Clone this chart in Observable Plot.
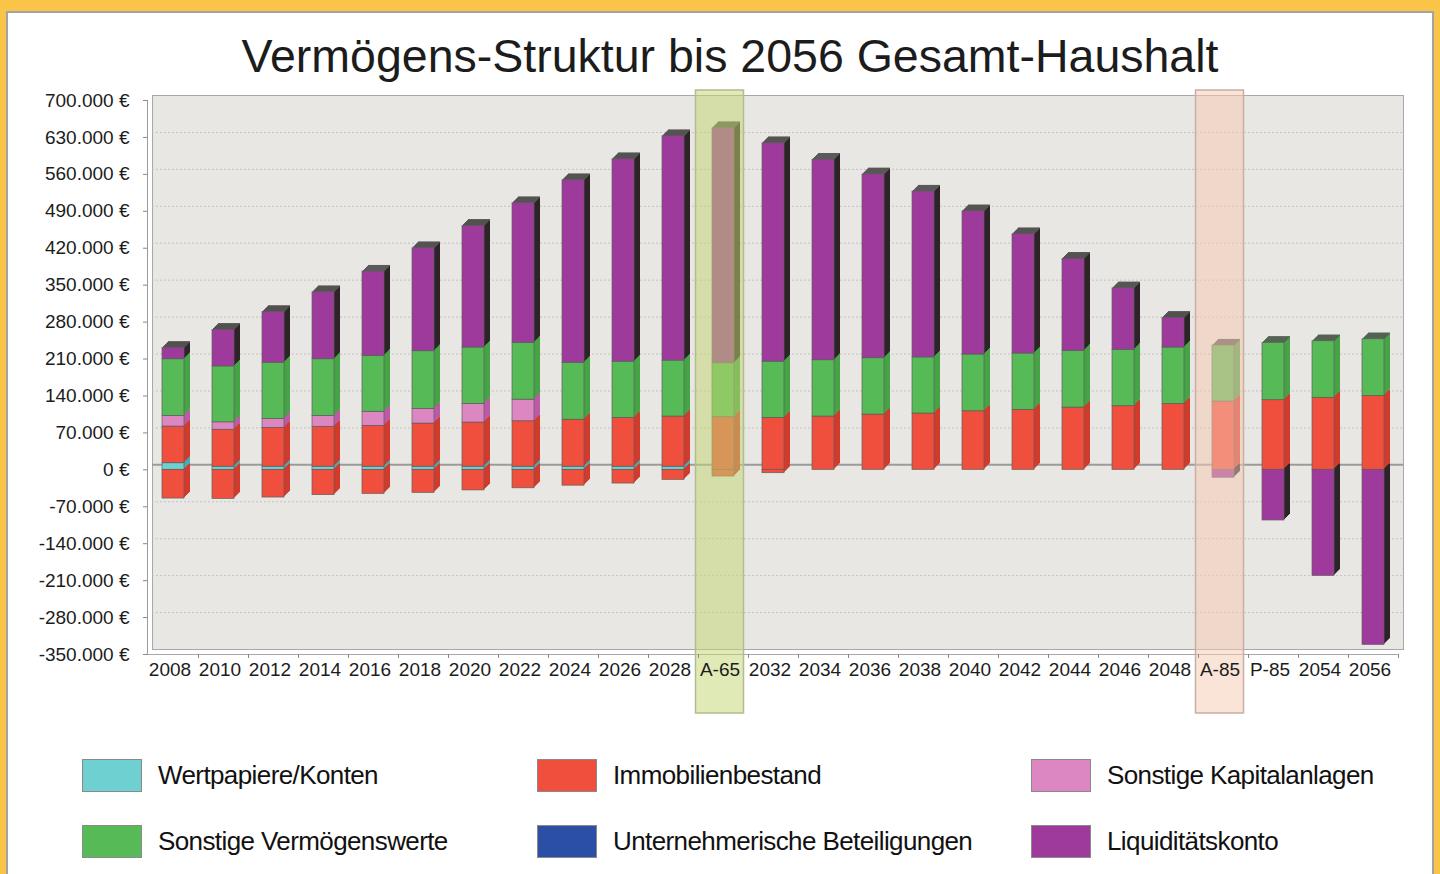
<!DOCTYPE html>
<html>
<head>
<meta charset="utf-8">
<script src="https://cdn.jsdelivr.net/npm/d3@7"></script>
<script src="https://cdn.jsdelivr.net/npm/@observablehq/plot@0.6"></script>
<style>
  html, body { margin: 0; padding: 0; }
  body { width: 1440px; height: 874px; background: #f9c448; position: relative; overflow: hidden;
         font-family: "Liberation Sans", Arial, Helvetica, sans-serif; }
  #panel { position: absolute; left: 6px; top: 11px; width: 1428px; height: 880px; background: #ffffff;
           border: 2px solid #a3a3a3; box-sizing: border-box; }
  #title { position: absolute; top: 29px; left: 730px; transform: translateX(-50%); white-space: nowrap;
           font-size: 46.5px; color: #1c1c1c; }
  #chart { position: absolute; left: 0; top: 0; }
  .leg { position: absolute; display: flex; align-items: center; font-size: 26px; color: #111; letter-spacing: -0.6px; white-space: nowrap; }
  .leg .sw { width: 60px; height: 33px; box-sizing: border-box; border: 1px solid #8a8a8a; margin-right: 16px; }
</style>
</head>
<body>
<div id="panel"></div>
<div id="title">Vermögens-Struktur bis 2056 Gesamt-Haushalt</div>
<div id="chart"></div>
<div id="legend"></div>
<script>
// ---------- data ----------
const categories = ["2008","2010","2012","2014","2016","2018","2020","2022","2024","2026","2028","A-65",
  "2032","2034","2036","2038","2040","2042","2044","2046","2048","A-85","P-85","2054","2056"];

const wertpapiereKonten = [12500,6000,6000,6000,6000,6000,6000,6000,6000,6000,6000,0,
  0,0,0,0,0,0,0,0,0,0,0,0,0];
const immobilienbestand = [69500,70000,73600,75500,77400,81700,83600,86000,89000,92500,95000,99700,
  98500,101000,104800,106700,111000,113700,118000,120600,125000,129400,132000,136500,140000];
const immobilienSchulden = [-54400,-55000,-52500,-48000,-45500,-43600,-39000,-35000,-30000,-26000,-19000,-12700,
  -6400,0,0,0,0,0,0,0,0,0,0,0,0];
const sonstigeKapitalanlagen = [20000,14000,17000,20500,26600,27900,35400,41000,0,0,0,0,
  0,0,0,0,0,0,0,0,0,0,0,0,0];
const sonstigeVermoegenswerte = [107600,106000,106400,107600,106000,109200,106800,107700,108000,106500,106000,102300,
  106500,106700,106700,106300,107500,106700,107500,106800,106800,106200,108700,107200,107500];
const unternehmerischeBeteiligungen = [0,0,0,0,0,0,0,0,0,0,0,0,
  0,0,0,0,0,0,0,0,0,0,0,0,0];
const liquiditaetskonto = [21400,69300,96000,127000,159800,195200,230600,264600,345900,383700,425300,445500,
  414000,380300,348500,314500,271500,226100,174500,116600,56200,-15000,-96000,-201000,-331700];

const yTicks = [-350000,-280000,-210000,-140000,-70000,0,70000,140000,210000,280000,350000,420000,490000,560000,630000,700000];
const highlights = [{cat: "A-65", fill: "#c3d773", stroke: "#b3bb90"}, {cat: "A-85", fill: "#f6c9b3", stroke: "#c9aea2"}];

const seriesNames = ["Wertpapiere/Konten","Immobilienbestand","Sonstige Kapitalanlagen",
  "Sonstige Vermögenswerte","Unternehmerische Beteiligungen","Liquiditätskonto"];
const frontColors = ["#6fd0d2","#ef4f3c","#dc86c2","#56ba56","#2c4fa6","#9e3a9c"];
const sideColors  = ["#3fb0b6","#d23a2c","#bd5aa6","#46a446","#1d3a82","#2d2329"];

// ---------- rows for the stack (input order = stacking order) ----------
const rows = [];
categories.forEach((c, i) => {
  rows.push({cat: c, key: seriesNames[0], value: wertpapiereKonten[i]});
  rows.push({cat: c, key: seriesNames[1], value: immobilienbestand[i]});
  rows.push({cat: c, key: seriesNames[1], value: immobilienSchulden[i]});
  rows.push({cat: c, key: seriesNames[2], value: sonstigeKapitalanlagen[i]});
  rows.push({cat: c, key: seriesNames[3], value: sonstigeVermoegenswerte[i]});
  rows.push({cat: c, key: seriesNames[4], value: unternehmerischeBeteiligungen[i]});
  rows.push({cat: c, key: seriesNames[5], value: liquiditaetskonto[i]});
});
const data = rows.filter(d => d.value !== 0).map((d, i) => ({...d, idx: i}));
const tops = categories.map(c => ({cat: c, top: d3.sum(data.filter(d => d.cat === c && d.value > 0), d => d.value)}));

const colorDomain = [...seriesNames, ...seriesNames.map(s => "side:" + s)];
const colorRange = [...frontColors, ...sideColors];

const yMin = yTicks[0], yMax = yTicks[yTicks.length - 1];
const nf = d3.format(",");
const fmt = d => (d < 0 ? "-" : "") + nf(Math.abs(d)).replace(/,/g, ".") + " €";

const depth = 6;
const marks = [];
// back wall
marks.push(Plot.frame({fill: "#e9e7e3", stroke: "#a8a8a8", dx: 5, dy: -5}));
// floor edge
marks.push(Plot.ruleY([yMin], {stroke: "#a8a8a8"}));
// grid
marks.push(Plot.ruleY(yTicks.filter(t => t !== 0 && t !== yMin && t !== yMax), {stroke: "#c2c2c2", strokeDasharray: "2,2", dx: 5, dy: -5}));
marks.push(Plot.ruleY([0], {stroke: "#9b9b9b", strokeWidth: 2, dx: 5, dy: -5}));
// 3D extrusion (side faces)
for (let i = depth; i >= 1; i--) {
  marks.push(Plot.barY(data, Plot.stackY({x: "cat", y: "value", order: "idx", fill: d => "side:" + d.key, dx: i, dy: -i})));
}
// top caps
for (let i = depth; i >= 1; i--) {
  marks.push(Plot.tickY(tops, {x: "cat", y: "top", stroke: "#5a5a58", strokeWidth: 1.2, dx: i, dy: -i}));
}
// front faces
marks.push(Plot.barY(data, Plot.stackY({x: "cat", y: "value", order: "idx", fill: "key", stroke: "#5e5e5e", strokeWidth: 0.7})));
// highlight columns
highlights.forEach(h => {
  marks.push(Plot.barY([h], {x: "cat", y1: yMax, y2: yMin, fill: h.fill, fillOpacity: 0.52, stroke: h.stroke, strokeWidth: 1.5,
    insetLeft: -13, insetRight: -13, insetTop: -10, insetBottom: -59, dx: -3.5}));
});
// axes
marks.push(Plot.frame({anchor: "left", stroke: "#9a9a9a"}));
marks.push(Plot.axisY({ticks: yTicks, tickFormat: fmt, tickSize: 4, tickPadding: 14, label: null, fontSize: 19, stroke: "#888"}));
marks.push(Plot.axisX({tickSize: 4, tickFormat: () => "", dx: 25, stroke: "#888", label: null}));
marks.push(Plot.axisX({tickSize: 0, tickPadding: 8, label: null, fontSize: 19, dx: -3.5}));

const chart = Plot.plot({
  width: 1440,
  height: 720,
  marginLeft: 147,
  marginRight: 42,
  marginTop: 100,
  marginBottom: 66,
  style: {background: "transparent", fontFamily: "'Liberation Sans', Arial, sans-serif", color: "#1c1c1c", overflow: "visible"},
  x: {type: "band", domain: categories, paddingInner: 0.56, paddingOuter: 0.28, align: 0.5, axis: null},
  y: {domain: [yMin, yMax], axis: null},
  color: {domain: colorDomain, range: colorRange},
  marks
});
document.getElementById("chart").appendChild(chart);

// ---------- legend ----------
const legPos = [[82,759],[537,759],[1031,759],[82,825],[537,825],[1031,825]];
const legEl = document.getElementById("legend");
seriesNames.forEach((name, k) => {
  const [x, y] = legPos[k];
  const div = document.createElement("div");
  div.className = "leg";
  div.style.left = x + "px";
  div.style.top = y + "px";
  const sw = document.createElement("div");
  sw.className = "sw";
  sw.style.background = frontColors[k];
  const t = document.createElement("span");
  t.textContent = name;
  div.appendChild(sw); div.appendChild(t);
  legEl.appendChild(div);
});
</script>
</body>
</html>
